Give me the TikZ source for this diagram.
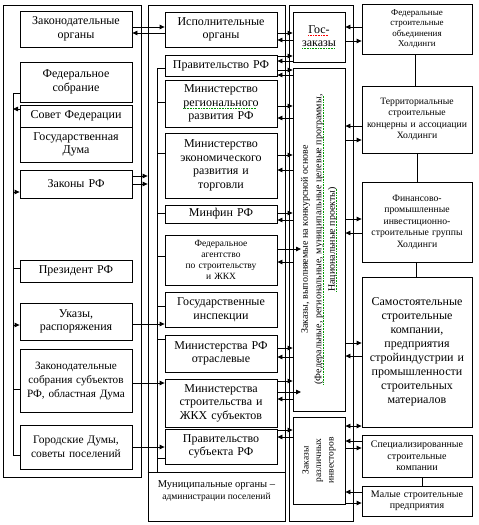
\documentclass[tikz,border=0pt]{standalone}
\usepackage{fontspec}
\setmainfont{Liberation Serif}
\usetikzlibrary{arrows.meta,shadows}
\newcommand\fsz[2]{\fontsize{#1}{#2}\selectfont}
\newsavebox\ulbox
\newcommand\cul[2]{\sbox\ulbox{#2}\leavevmode\rlap{\usebox\ulbox}\raisebox{-2.3pt}{\textcolor{#1}{\hbox to \wd\ulbox{\leaders\hbox{\rule{0.9pt}{0.7pt}\kern0.7pt}\hfill}}}}
\newcommand\gul[1]{\cul{green!60!black}{#1}}
\newcommand\rul[1]{\cul{red}{#1}}
\tikzset{
 box/.style={draw, line width=0.8pt, fill=white, inner sep=0pt, align=center,
   drop shadow={shadow xshift=1.3pt, shadow yshift=-1.3pt, fill=black!30, opacity=1}},
 arr/.style={line width=0.8pt, -{Triangle[length=5pt,width=4.5pt]}},
 darr/.style={line width=0.8pt, {Triangle[length=5pt,width=4.5pt]}-{Triangle[length=5pt,width=4.5pt]}},
 ln/.style={line width=0.8pt},
 big/.style={font=\fsz{12}{13.5}},
 mid/.style={font=\fsz{9.7}{11.5}},
 sml/.style={font=\fsz{9}{10.5}},
}
\newcommand\bx[7][]{%
 \pgfmathsetmacro\bw{#5-#3}\pgfmathsetmacro\bh{#6-#4}\pgfmathsetmacro\tw{#5-#3-4}%
 \node[box,big,minimum width=\bw pt,minimum height=\bh pt,text width=\tw pt,#1] (#2) at ({(#3+#5)/2},{(#4+#6)/2}) {#7};}
\newcommand\ar[4][arr]{\draw[#1] (#2 |- 0,#4) -- (#3 |- 0,#4);}
\begin{document}
\begin{tikzpicture}[x=1pt,y=-1pt]
\useasboundingbox (0,0) rectangle (479,525);
% outer frames
\bx{LB}{3}{5}{141}{477}{}
\bx{MB}{148}{5}{285}{521}{}
\bx{TB}{289}{5}{353}{521}{}
% left column
\bx{zo}{20}{11}{132}{47}{Законодательные\\органы}
\bx{fs}{20}{62}{132}{102}{Федеральное\\собрание}
\bx{sf}{20}{105}{132}{127}{Совет Федерации}
\bx{gd}{20}{127}{132}{162}{Государственная\\Дума}
\bx{zr}{20}{170}{132}{198}{Законы РФ}
\bx{pr}{20}{260}{132}{282}{Президент РФ}
\bx{uk}{20}{303}{132}{340}{Указы,\\распоряжения}
\bx[font=\fsz{11.2}{14}]{zs}{20}{349}{132}{412}{Законодательные\\собрания субъектов\\РФ, областная Дума}
\bx[font=\fsz{11.5}{14}]{gdum}{20}{425}{132}{469}{Городские Думы,\\советы поселений}
% middle column
\bx{io}{165}{12}{277}{47}{Исполнительные\\органы}
\bx{prf}{165}{55}{277}{76}{Правительство РФ}
\bx{mrr}{165}{80}{277}{127}{Министерство\\\gul{регионального}\\развития РФ}
\bx{mer}{165}{133}{277}{198}{Министерство\\экономического\\развития и\\торговли}
\bx{mf}{165}{205}{277}{223}{Минфин РФ}
\bx[font=\fsz{9.5}{11}]{fa}{165}{235}{277}{285}{Федеральное\\агентство\\по строительству\\и ЖКХ}
\bx{gi}{165}{292}{277}{327}{Государственные\\инспекции}
\bx{mro}{165}{335}{277}{372}{Министерства РФ\\отраслевые}
\bx{msg}{165}{379}{277}{427}{Министерства\\строительства и\\ЖКХ субъектов}
\bx{ps}{165}{429}{277}{464}{Правительство\\субъекта РФ}
\draw[ln] (MB.west |- 0,472) -- (MB.east |- 0,472);
\node[align=center,font=\fsz{10.5}{11.5}] (muni) at (216.5,491) {Муниципальные органы –\\{\fsz{9.5}{11}администрации поселений}};
% third column
\bx{gz}{293}{12}{345}{62}{\rul{Гос-}\\\gul{заказы}}
\bx{zk}{293}{68}{345}{411}{}
\node[rotate=90,align=center,font=\fsz{10}{13.5}] (zkt) at (zk.center) {Заказы, выполняемые на конкурсной основе\\\gul{(Федеральные, региональные, муниципальные целевые программы,}\\\gul{Национальные проекты)}};
\bx{zr2}{293}{417}{345}{504}{}
\node[rotate=90,align=center,font=\fsz{9.5}{12.5}] (zr2t) at (zr2.center) {Заказы\\различных\\инвесторов};
% right column
\bx[sml]{fso}{362}{4}{472}{54}{Федеральные\\строительные\\объединения\\Холдинги}
\bx[mid]{tsk}{362}{86}{472}{153}{Территориальные\\строительные\\концерны и ассоциации\\Холдинги}
\bx[mid]{fpg}{362}{182}{472}{262}{Финансово-\\промышленные\\инвестиционно-\\строительные группы\\Холдинги}
\bx[font=\fsz{12}{14}]{ssk}{362}{277}{472}{427}{Самостоятельные\\строительные\\компании,\\предприятия\\стройиндустрии и\\промышленности\\строительных\\материалов}
\bx[font=\fsz{10}{11.5}]{spc}{362}{435}{472}{477}{Специализированные\\строительные\\компании}
\bx[font=\fsz{10}{11}]{mal}{362}{486}{472}{516}{Малые строительные\\предприятия}
\draw[ln] (415,0 |- fso.south) -- (415,0 |- tsk.north);
\draw[ln] (417,0 |- tsk.south) -- (417,0 |- fpg.north);
\draw[ln] (416,0 |- fpg.south) -- (416,0 |- ssk.north);
\draw[ln] (422,0 |- spc.south) -- (422,0 |- mal.north);
% left internal
\coordinate (L1) at (13,93);
\coordinate (L2) at (13,455);
\draw[ln] (fs.west |- L1) -- (L1) -- (L2) -- (gdum.west |- L2);
\ar{sf.west}{L1}{109}
\ar{L1}{zr.west}{192}
\draw[ln] (L1 |- 0,268) -- (pr.west |- 0,268);
\ar{L1}{uk.west}{325}
\draw[ln] (L1 |- 0,389) -- (zs.west |- 0,389);
% middle internal
\coordinate (M1) at (157,68);
\coordinate (M2) at (157,472);
\draw[ln] (prf.west |- M1) -- (M1) -- (M2);
\draw[ln] (M1 |- 0,102) -- (mrr.west |- 0,102);
\draw[ln] (M1 |- 0,153) -- (mer.west |- 0,153);
\draw[ln] (M1 |- 0,213) -- (mf.west |- 0,213);
\draw[ln] (M1 |- 0,256) -- (fa.west |- 0,256);
\draw[ln] (M1 |- 0,306) -- (gi.west |- 0,306);
\draw[ln] (M1 |- 0,339) -- (mro.west |- 0,339);
\draw[ln] (M1 |- 0,458) -- (ps.west |- 0,458);
% left <-> middle
\ar{zo.east}{io.west}{27}
\ar{io.west}{zo.east}{33}
\ar{zr.east}{MB.west}{176}
\ar{zr.east}{MB.west}{184}
\ar{uk.east}{gi.west}{324}
\ar{zs.east}{msg.west}{383}
\ar{gdum.east}{ps.west}{447}
% middle <-> third
\coordinate (zkA) at (301,249);
\coordinate (zkB) at (301,392);
\ar{io.east}{gz.west}{33}
\ar{gz.west}{io.east}{40}
\ar{prf.east}{gz.west}{56}
\ar{gz.west}{prf.east}{61}
\ar{prf.east}{zk.west}{70}
\ar{zk.west}{prf.east}{75}
\ar{mrr.east}{zk.west}{106}
\ar{zk.west}{mrr.east}{118}
\ar{mer.east}{zk.west}{155}
\ar{zk.west}{mer.east}{170}
\ar{mf.east}{zk.west}{213}
\ar{zk.west}{mf.east}{220}
\draw[arr] (fa.east |- zkA) -- (zkA);
\ar{zk.west}{fa.east}{262}
\ar{mro.east}{zk.west}{348}
\ar{zk.west}{mro.east}{357}
\ar{msg.east}{zk.west}{381}
\draw[arr] (msg.east |- zkB) -- (zkB);
\ar{zk.west}{msg.east}{399}
\ar{ps.east}{zr2.west}{430}
\ar{zr2.west}{ps.east}{437}
% third <-> right
\ar{fso.west}{gz.east}{27}
\ar{gz.east}{fso.west}{41}
\ar{tsk.west}{zk.east}{126}
\ar{zk.east}{tsk.west}{140}
\ar{zk.east}{fpg.west}{219}
\ar{fpg.west}{zk.east}{233}
\ar{zk.east}{ssk.west}{343}
\ar{ssk.west}{zk.east}{356}
\ar[darr]{zr2.east}{ssk.west}{426}
\ar{spc.west}{zr2.east}{441}
\ar{zr2.east}{spc.west}{448}
\ar{mal.west}{zr2.east}{492}
\ar{zr2.east}{mal.west}{503}
\end{tikzpicture}
\end{document}
